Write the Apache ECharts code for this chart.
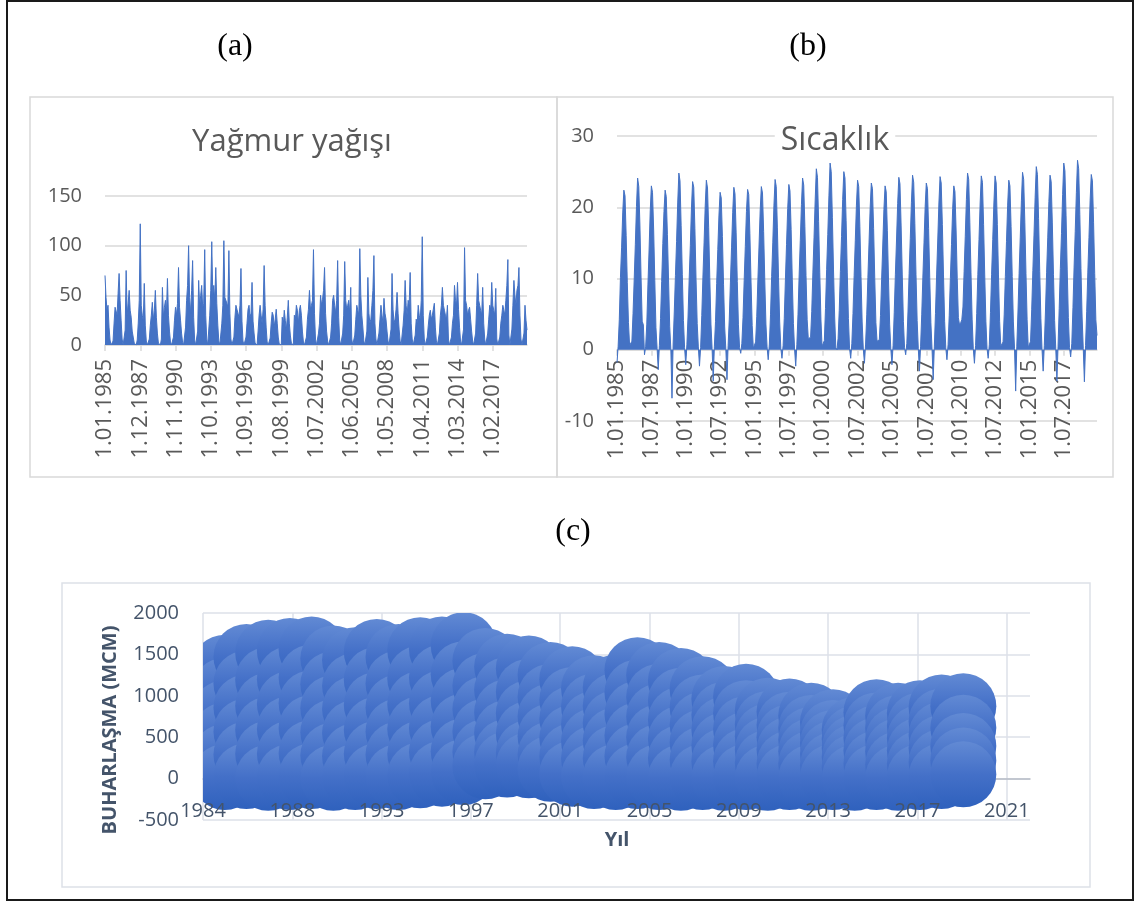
<!DOCTYPE html>
<html>
<head>
<meta charset="utf-8">
<script src="https://cdn.jsdelivr.net/npm/echarts@6/dist/echarts.min.js"></script>
<style>
html,body{margin:0;padding:0;background:#fff;}
#chart{width:1138px;height:903px;}
</style>
</head>
<body>
<div id="chart"></div>
<script>
// ---------- DATA ----------
const years = [1985,1986,1987,1988,1989,1990,1991,1992,1993,1994,1995,1996,1997,1998,1999,2000,2001,2002,2003,2004,2005,2006,2007,2008,2009,2010,2011,2012,2013,2014,2015,2016,2017,2018,2019];
const monthCodes = ['01','02','03','04','05','06','07','08','09','10','11','12'];

// (a) monthly rainfall, one row per year (Jan..Dec)
const rainfall = [
  [70,48,35,40,18,5,0,0,4,22,38,40],
  [30,52,72,45,25,6,0,1,15,75,30,42],
  [55,35,28,14,8,2,0,0,5,22,45,122],
  [40,30,25,62,20,4,0,0,6,20,30,43],
  [25,35,55,28,12,2,0,0,6,58,28,38],
  [45,32,67,30,14,3,0,0,8,25,38,30],
  [42,78,38,25,12,3,0,0,18,45,60,100],
  [48,32,55,85,28,5,0,0,14,65,38,50],
  [60,38,42,96,30,6,0,1,30,55,104,50],
  [60,45,78,42,20,4,0,0,22,40,105,48],
  [50,42,38,95,32,6,0,0,8,28,40,36],
  [32,28,40,77,24,4,0,0,8,22,36,40],
  [28,32,63,24,12,2,0,0,14,30,40,30],
  [22,36,80,40,18,3,0,0,7,22,33,30],
  [18,26,36,22,8,1,0,0,28,20,35,25],
  [15,28,45,22,10,2,0,0,30,25,40,35],
  [22,35,40,30,14,3,0,0,8,26,36,55],
  [36,40,45,96,32,6,0,0,12,22,50,40],
  [46,55,78,32,14,4,0,0,8,22,45,50],
  [40,32,45,85,28,5,0,0,12,30,84,45],
  [36,40,45,32,58,6,0,0,10,26,40,35],
  [30,97,50,30,18,4,0,0,14,68,32,22],
  [26,40,55,90,22,6,0,0,12,26,40,30],
  [22,47,32,26,14,4,0,0,16,72,36,22],
  [26,36,53,32,16,4,0,0,20,35,65,40],
  [30,45,40,73,22,6,0,0,10,26,22,40],
  [30,26,45,109,30,6,0,0,8,20,30,35],
  [26,30,36,42,18,4,0,0,12,30,40,58],
  [40,35,30,26,40,6,0,0,8,22,30,60],
  [45,40,63,36,18,4,0,0,16,98,45,40],
  [30,35,38,26,14,4,0,0,12,40,72,45],
  [40,35,30,58,22,6,0,0,12,26,40,35],
  [63,40,35,30,57,6,0,0,8,22,30,40],
  [35,30,45,60,86,10,0,0,16,40,65,50],
  [40,55,60,78,30,6,0,0,12,40,25,15]
];

// (b) monthly temperature, one row per year (Jan..Dec)
const temperature = [
  [-1.8,0.5,4.2,10.1,14.3,19.2,22.4,21.6,16.0,9.4,3.8,0.6],
  [0.5,1.2,5.1,9.8,14.8,20.1,24.1,22.9,17.5,10.2,4.0,3.5],
  [-0.7,0.4,3.6,9.1,14.0,19.5,23.0,22.1,16.8,9.7,3.1,0.2],
  [-2.8,0.6,4.4,9.6,14.9,19.4,22.4,21.5,16.2,9.8,3.3,0.1],
  [-6.8,0.8,5.3,10.4,15.2,20.6,24.8,23.7,17.4,10.6,4.1,0.3],
  [-2.1,0.7,4.6,9.9,14.6,19.9,23.6,22.8,17.0,9.9,3.7,0.4],
  [-2.3,0.3,4.8,10.2,15.0,20.2,23.8,22.7,17.2,10.1,3.6,0.2],
  [-4.4,0.5,4.0,9.3,14.1,18.9,22.1,21.3,15.9,9.2,3.2,0.1],
  [-4.2,0.6,4.3,9.5,14.4,19.3,22.8,21.9,16.4,9.6,3.5,0.3],
  [-0.5,0.9,4.5,9.7,14.5,19.4,22.5,21.8,16.3,9.5,3.4,0.2],
  [0.3,1.1,4.7,9.9,14.7,19.6,22.9,22.0,16.6,9.8,3.6,0.4],
  [-1.4,0.8,4.9,10.3,15.1,20.3,23.9,22.9,17.1,10.1,3.9,0.2],
  [-1.2,0.6,4.4,9.8,14.8,19.8,23.2,22.3,16.9,9.9,3.7,0.1],
  [-2.3,0.7,5.0,10.5,15.3,20.4,24.1,23.1,17.3,10.4,4.2,1.5],
  [1.5,1.8,5.4,10.9,15.8,21.0,25.4,24.2,18.0,10.8,4.3,0.5],
  [0.5,1.3,5.8,11.3,16.2,21.6,26.2,25.0,18.6,11.2,4.6,0.3],
  [0.0,1.6,5.5,11.0,15.9,21.1,25.0,24.1,18.1,10.9,4.4,0.2],
  [-1.2,0.9,5.1,10.4,15.3,20.3,23.8,22.9,17.3,10.3,3.9,0.1],
  [-1.9,0.8,4.9,10.1,15.0,20.0,23.4,22.6,17.0,10.0,3.8,1.2],
  [1.2,1.4,4.8,9.9,14.7,19.7,23.0,22.2,16.7,9.8,3.6,0.2],
  [-2.1,0.6,5.2,10.6,15.4,20.5,24.2,23.3,17.5,10.5,4.0,0.3],
  [-0.7,0.9,5.3,10.7,15.6,20.7,24.5,23.5,17.7,10.6,4.1,0.2],
  [-3.0,0.5,4.9,10.2,15.1,20.1,23.4,22.6,17.0,10.1,3.8,0.1],
  [-4.2,0.4,5.1,10.5,15.4,20.6,24.3,23.4,17.6,10.5,4.0,0.3],
  [-1.4,0.7,4.8,10.0,14.8,19.8,23.0,22.2,16.8,10.0,4.5,3.5],
  [3.8,4.2,6.0,11.0,15.9,21.1,24.8,23.9,17.9,10.8,4.3,0.2],
  [-1.9,0.6,5.1,10.6,15.5,20.6,24.4,23.5,17.6,10.5,4.0,0.2],
  [-1.2,0.7,5.2,10.6,15.5,20.6,24.4,23.4,17.6,10.5,4.0,0.5],
  [0.5,1.1,5.0,10.3,15.2,20.3,23.8,23.0,17.3,10.3,3.9,0.2],
  [-5.8,0.5,5.3,10.7,15.7,20.9,24.9,23.9,17.9,10.7,4.2,0.3],
  [0.3,1.2,5.6,11.1,16.1,21.4,25.7,24.6,18.4,11.0,4.4,0.1],
  [-3.0,0.6,5.3,10.8,15.7,20.8,24.5,23.6,17.8,10.6,4.1,0.2],
  [-4.4,0.5,5.8,11.4,16.3,21.8,26.2,25.1,18.8,11.2,4.5,0.3],
  [-1.0,0.9,5.9,11.6,16.6,22.1,26.6,25.4,19.0,11.4,4.6,0.2],
  [-4.5,0.6,5.4,10.9,15.8,21.0,24.6,23.7,17.9,10.7,4.2,2.0]
];

// (c) evaporation bubbles: values per year (MCM)
const evapYears = years;
const evaporation = [
  [1340,1060,790,520,260,20],
  [1470,1150,860,570,290,30],
  [1520,1190,880,590,300,10],
  [1540,1200,900,600,300,20],
  [1560,1220,910,610,310,30],
  [1450,1140,850,560,280,10],
  [1430,1120,840,550,270,20],
  [1530,1190,890,590,300,30],
  [1470,1150,860,570,290,20],
  [1550,1210,900,600,300,40],
  [1560,1220,910,610,320,60],
  [1610,1260,940,630,330,80],
  [1420,1120,840,570,320,150],
  [1350,1070,800,550,320,170],
  [1330,1050,790,540,310,160],
  [1250,990,750,510,290,120],
  [1200,950,720,490,270,60],
  [1090,870,660,450,240,30],
  [1100,880,670,460,250,20],
  [1310,1040,780,520,270,30],
  [1250,990,750,500,260,20],
  [1180,940,710,480,250,10],
  [1080,860,650,440,230,20],
  [960,770,590,400,210,10],
  [990,790,600,410,210,20],
  [820,660,510,350,190,10],
  [810,650,500,350,180,20],
  [760,610,470,330,180,10],
  [680,550,430,300,160,20],
  [590,480,370,260,140,10],
  [800,640,490,340,180,20],
  [760,610,470,330,170,10],
  [790,640,490,340,180,20],
  [860,690,530,370,200,30],
  [875,615,393,220,52]
];
const evapXTickLabels = ['1984','1988','1993','1997','2001','2005','2009','2013','2017','2021'];

// ---------- BUILD ----------
const dateLabels = [];
years.forEach(y => monthCodes.forEach(m => dateLabels.push('1.' + m + '.' + y)));
const rainSeries = rainfall.flat();
const tempSeries = temperature.flat();
const bubbleData = [];
evaporation.forEach((row, i) => row.forEach(v => bubbleData.push([evapYears[i], v])));

const FONT = '"Open Sans", "Liberation Sans", sans-serif';
const BLUE = '#4472c4';
const GRID_GRAY = '#d9d9d9';
const TXT = '#595959';
const SLATE = '#44546a';
const C_GRID = '#dde1e8';
const xStart = 1984, xEnd = 2022.07, xStep = 37 / 9;

const chart = echarts.init(document.getElementById('chart'), null, {renderer: 'canvas'});

function areaSeries(xi, data) {
  return {
    type: 'line', xAxisIndex: xi, yAxisIndex: xi, data: data,
    symbol: 'none', showSymbol: false, sampling: null,
    lineStyle: {width: 1, color: BLUE},
    itemStyle: {color: BLUE},
    areaStyle: {color: BLUE, opacity: 1},
    animation: false
  };
}

// offset moves the x axis (line, ticks, labels) up to the zero line
function catAxis(gi, every, offset, margin) {
  return {
    gridIndex: gi, type: 'category', data: dateLabels, boundaryGap: false,
    position: 'bottom', offset: offset,
    axisLine: {onZero: false, lineStyle: {color: GRID_GRAY, width: 1.5}},
    axisTick: {show: true, interval: every - 1, length: 6, lineStyle: {color: GRID_GRAY, width: 1.5}},
    axisLabel: {interval: every - 1, rotate: 90, margin: margin, fontSize: 22, color: TXT, fontFamily: FONT},
    splitLine: {show: false}
  };
}
function valAxis(gi, min, max, step) {
  return {
    gridIndex: gi, type: 'value', min: min, max: max, interval: step,
    axisLine: {show: false}, axisTick: {show: false},
    axisLabel: {fontSize: 20, color: TXT, fontFamily: FONT, margin: 23},
    splitLine: {lineStyle: {color: GRID_GRAY, width: 1.5}}
  };
}
function yearLabel(v) {
  const k = Math.round((v - xStart) / xStep);
  return Math.abs(v - (xStart + k * xStep)) < 0.05 && evapXTickLabels[k] ? evapXTickLabels[k] : '';
}

const option = {
  animation: false,
  backgroundColor: '#fff',
  grid: [
    {left: 105, top: 196, width: 422, height: 149},
    {left: 617, top: 136, width: 480, height: 285},
    {left: 203, top: 613, width: 827, height: 207}
  ],
  xAxis: [
    catAxis(0, 35, 0, 14),
    catAxis(1, 30, -71.25, 10),
    // (c) grid lines + zero axis line, behind bubbles
    {
      gridIndex: 2, type: 'value', min: xStart, max: xEnd, interval: xStep,
      position: 'bottom', offset: -41.4, z: 0,
      axisLine: {onZero: false, lineStyle: {color: '#b7bcc6', width: 1.5}},
      axisTick: {show: false},
      axisLabel: {show: false},
      splitLine: {show: true, showMaxLine: false, lineStyle: {color: C_GRID, width: 1.5}}
    },
    // (c) year labels, drawn above bubbles
    {
      gridIndex: 2, type: 'value', min: xStart, max: xEnd, interval: xStep,
      position: 'bottom', offset: -41.4, z: 5,
      axisLine: {show: false}, axisTick: {show: false}, splitLine: {show: false},
      axisLabel: {margin: 23, fontSize: 20, color: SLATE, fontFamily: FONT, showMaxLabel: false, formatter: yearLabel}
    }
  ],
  yAxis: [
    valAxis(0, 0, 150, 50),
    valAxis(1, -10, 30, 10),
    {
      gridIndex: 2, type: 'value', min: -500, max: 2000, interval: 500,
      axisLine: {show: false}, axisTick: {show: false},
      axisLabel: {fontSize: 20, color: SLATE, fontFamily: FONT, margin: 24, formatter: v => String(v)},
      splitLine: {lineStyle: {color: C_GRID, width: 1.5}}
    }
  ],
  series: [
    areaSeries(0, rainSeries),
    areaSeries(1, tempSeries),
    {
      type: 'custom', xAxisIndex: 2, yAxisIndex: 2, data: bubbleData, clip: true, z: 2,
      encode: {x: 0, y: 1},
      renderItem: function (params, api) {
        const p = api.coord([api.value(0), api.value(1)]);
        return {
          type: 'circle',
          shape: {cx: p[0], cy: p[1], r: 33},
          style: {
            fill: new echarts.graphic.LinearGradient(0, 0, 0, 1, [
              {offset: 0, color: '#628ad4'},
              {offset: 0.5, color: '#4470c8'},
              {offset: 1, color: '#2f61bd'}
            ])
          }
        };
      },
      animation: false
    }
  ],
  graphic: [
    {type: 'rect', z: 0, shape: {x: 7, y: 1, width: 1126, height: 899}, style: {fill: 'none', stroke: '#1a1a1a', lineWidth: 2}},
    {type: 'rect', z: 0, shape: {x: 30, y: 97, width: 527, height: 380}, style: {fill: 'none', stroke: GRID_GRAY, lineWidth: 1.5}},
    {type: 'rect', z: 0, shape: {x: 557, y: 97, width: 556, height: 380}, style: {fill: 'none', stroke: GRID_GRAY, lineWidth: 1.5}},
    {type: 'rect', z: 0, shape: {x: 62, y: 583, width: 1028, height: 304}, style: {fill: 'none', stroke: C_GRID, lineWidth: 1.5}},
    {type: 'text', z: 50, x: 235, y: 47, style: {text: '(a)', font: '32px "Liberation Serif", "DejaVu Serif", serif', fill: '#000', align: 'center', verticalAlign: 'middle', textAlign: 'center', textVerticalAlign: 'middle'}},
    {type: 'text', z: 50, x: 808, y: 47, style: {text: '(b)', font: '32px "Liberation Serif", "DejaVu Serif", serif', fill: '#000', align: 'center', verticalAlign: 'middle', textAlign: 'center', textVerticalAlign: 'middle'}},
    {type: 'text', z: 50, x: 573, y: 532, style: {text: '(c)', font: '32px "Liberation Serif", "DejaVu Serif", serif', fill: '#000', align: 'center', verticalAlign: 'middle', textAlign: 'center', textVerticalAlign: 'middle'}},
    {type: 'text', z: 50, x: 292, y: 142, style: {text: 'Yağmur yağışı', font: '31px ' + FONT, fill: TXT, align: 'center', verticalAlign: 'middle', textAlign: 'center', textVerticalAlign: 'middle'}},
    {type: 'text', z: 50, x: 835, y: 141, style: {text: 'Sıcaklık', font: '32px ' + FONT, fill: TXT, backgroundColor: '#fff', padding: [0, 6], align: 'center', verticalAlign: 'middle', textAlign: 'center', textVerticalAlign: 'middle'}},
    {type: 'text', z: 50, x: 110, y: 730, rotation: Math.PI / 2, style: {text: 'BUHARLAŞMA (MCM)', font: 'bold 20px ' + FONT, fill: SLATE, align: 'center', verticalAlign: 'middle', textAlign: 'center', textVerticalAlign: 'middle'}},
    {type: 'text', z: 50, x: 617, y: 840, style: {text: 'Yıl', font: 'bold 20px ' + FONT, fill: SLATE, align: 'center', verticalAlign: 'middle', textAlign: 'center', textVerticalAlign: 'middle'}}
  ]
};
chart.setOption(option);
</script>
</body>
</html>
